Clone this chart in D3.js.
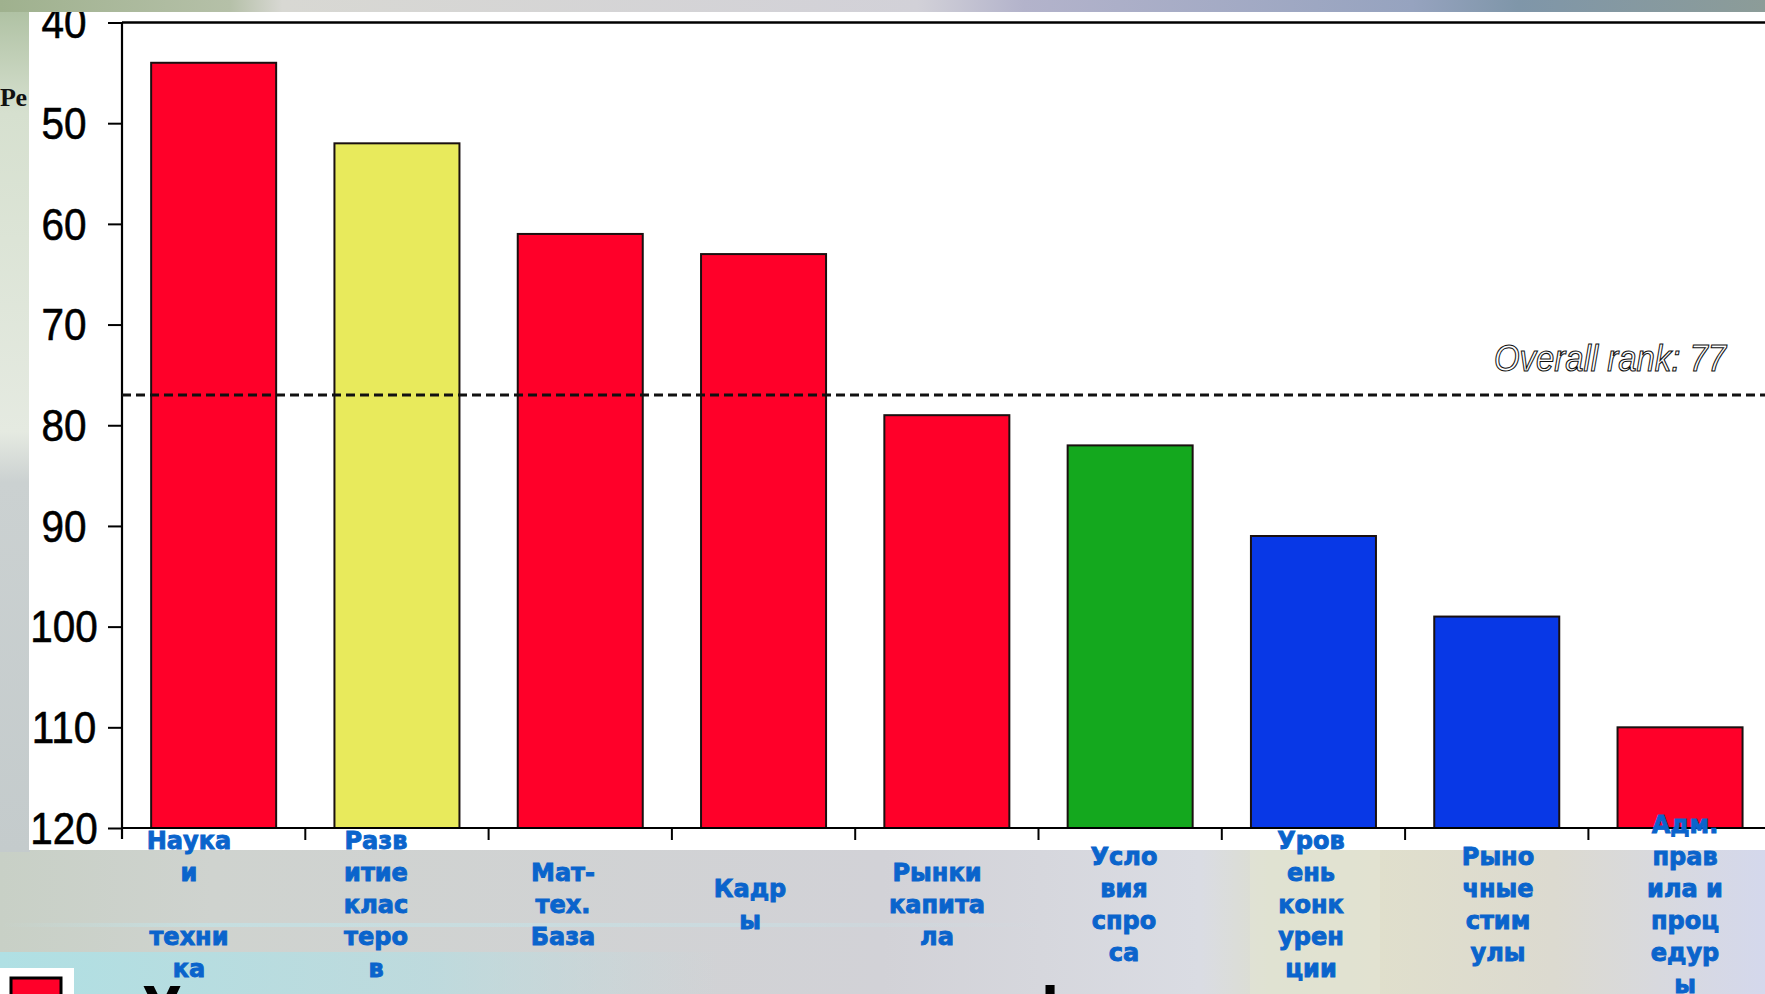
<!DOCTYPE html>
<html>
<head>
<meta charset="utf-8">
<script src="https://cdn.jsdelivr.net/npm/d3@7"></script>
<style>
  html, body { margin: 0; padding: 0; overflow: hidden; background: #d3d4d6; }
  svg { display: block; }
</style>
</head>
<body>
<svg id="chart" width="1765" height="994"></svg>
<script>
// Rank of each competitiveness factor (lower is better)
const categories = [
  "Наука и техника", "Развитие кластеров", "Мат-тех. База", "Кадры",
  "Рынки капитала", "Условия спроса", "Уровень конкуренции",
  "Рыночные стимулы", "Адм. правила и процедуры"
];
const ranks = [44, 52, 61, 63, 79, 82, 91, 99, 110];
const groups = ["red", "yellow", "red", "red", "red", "green", "blue", "blue", "red"];
const overallRank = 77;
const rankTicks = [40, 50, 60, 70, 80, 90, 100, 110, 120];
// Wrapped category captions, as they break in their narrow cells
const labelLines = [
  ["Наука", "и", "", "техни", "ка"],
  ["Разв", "итие", "клас", "теро", "в"],
  ["Мат-", "тех.", "База"],
  ["Кадр", "ы"],
  ["Рынки", "капита", "ла"],
  ["Усло", "вия", "спро", "са"],
  ["Уров", "ень", "конк", "урен", "ции"],
  ["Рыно", "чные", "стим", "улы"],
  ["Адм.", "прав", "ила и", "проц", "едур", "ы"]
];

const groupColor = d3.scaleOrdinal()
  .domain(["red", "yellow", "green", "blue"])
  .range(["#ff0029", "#e8ea5c", "#14a81e", "#0838e6"]);

const svg = d3.select("#chart");
const W = 1765, H = 994;
const defs = svg.append("defs");

function linGrad(id, stops, vertical) {
  const g = defs.append("linearGradient").attr("id", id)
    .attr("x1", 0).attr("y1", 0)
    .attr("x2", vertical ? 0 : 1).attr("y2", vertical ? 1 : 0);
  stops.forEach(s => g.append("stop").attr("offset", s[0])
    .attr("stop-color", s[1]).attr("stop-opacity", s[2] === undefined ? 1 : s[2]));
}

linGrad("bgBase", [[0, "#c8d0c6"], [0.12, "#cfd3cf"], [0.5, "#d2d2d7"], [0.68, "#dadce3"],
  [0.72, "#dcdecf"], [0.78, "#e0dfcc"], [0.88, "#dcdad0"], [1, "#d4d8ec"]]);
linGrad("bgTop", [[0, "#9fb18e"], [0.13, "#b5c0a8"], [0.16, "#d8d8d3"], [0.52, "#d2d1d8"],
  [0.58, "#b3b3cb"], [0.8, "#96a3bf"], [0.86, "#7f96a9"], [1, "#8c9c98"]]);
linGrad("bgLeft", [[0, "#b0c2a4"], [0.12, "#d6e0cf"], [0.5, "#e5eae1"], [0.56, "#cbd1d1"], [1, "#c4cbcc"]], true);
linGrad("cyanFade", [[0, "#b0e0e4", 1], [0.6, "#b6dde2", 0.7], [1, "#c0dde2", 0]]);
linGrad("streak", [[0, "#bfe6ec", 0], [0.2, "#bfe6ec", 0.6], [0.7, "#c4e4ea", 0.45], [1, "#c4e4ea", 0]]);

// Backdrop
svg.append("rect").attr("width", W).attr("height", H).attr("fill", "url(#bgBase)");
svg.append("rect").attr("width", W).attr("height", 14).attr("fill", "url(#bgTop)");
svg.append("rect").attr("y", 12).attr("width", 30).attr("height", 840).attr("fill", "url(#bgLeft)");
svg.append("rect").attr("x", 0).attr("y", 952).attr("width", 720).attr("height", 42).attr("fill", "url(#cyanFade)");
svg.append("rect").attr("x", 0).attr("y", 923).attr("width", 1050).attr("height", 4).attr("fill", "url(#streak)");
svg.append("rect").attr("x", 1250).attr("y", 850).attr("width", 130).attr("height", 144)
  .attr("fill", "#e3e4d4").attr("opacity", 0.6);

// Heading behind the chart panel, only its first letters show at the margin
defs.append("clipPath").attr("id", "marginClip").append("rect")
  .attr("x", 0).attr("y", 0).attr("width", 29).attr("height", H);
svg.append("text").attr("x", 0).attr("y", 106)
  .attr("clip-path", "url(#marginClip)")
  .attr("font-family", "Liberation Serif, serif").attr("font-weight", "bold")
  .attr("font-size", 26).attr("fill", "#111").text("Ре");

// White chart panel
const panel = { x: 29, y: 12, w: W - 29, h: 838 };
svg.append("rect").attr("x", panel.x).attr("y", panel.y)
  .attr("width", panel.w).attr("height", panel.h).attr("fill", "#ffffff");
defs.append("clipPath").attr("id", "panelClip").append("rect")
  .attr("x", panel.x).attr("y", panel.y).attr("width", panel.w).attr("height", panel.h);

const plot = svg.append("g").attr("clip-path", "url(#panelClip)");

const x0 = 122, step = 183.3;
const x = d3.scaleBand().domain(categories)
  .range([x0, x0 + step * categories.length])
  .paddingInner(0.318).paddingOuter(0.159);
const y = d3.scaleLinear().domain([40, 120]).range([22.5, 828]);

// Bars grow down from the top of the rank scale toward 120
plot.selectAll("rect.bar").data(categories).join("rect")
  .attr("class", "bar")
  .attr("x", d => x(d))
  .attr("y", (d, i) => y(ranks[i]))
  .attr("width", x.bandwidth())
  .attr("height", (d, i) => y(120) - y(ranks[i]))
  .attr("fill", (d, i) => groupColor(groups[i]))
  .attr("stroke", "#1a1010").attr("stroke-width", 2);

// Y axis: ticks from the axis generator, labels centred in the left margin
const yAxis = plot.append("g").attr("transform", `translate(${x0},0)`)
  .call(d3.axisLeft(y).tickValues(rankTicks).tickSize(14).tickSizeOuter(0).tickFormat(""));
yAxis.select(".domain").remove();
yAxis.selectAll(".tick line").attr("stroke", "#000").attr("stroke-width", 2);

plot.append("line").attr("x1", x0).attr("x2", x0)
  .attr("y1", y(40)).attr("y2", y(120) + 11)
  .attr("stroke", "#000").attr("stroke-width", 2.2);

plot.selectAll("text.rank").data(rankTicks).join("text")
  .attr("class", "rank")
  .attr("transform", d => `translate(64,${y(d)}) scale(0.92,1)`)
  .attr("dy", "0.36em")
  .attr("text-anchor", "middle")
  .attr("font-family", "Liberation Sans, Arial, sans-serif")
  .attr("font-size", 44).attr("fill", "#000")
  .attr("stroke", "#000").attr("stroke-width", 0.6)
  .text(d => d);

// Frame top and category axis
plot.append("line").attr("x1", x0).attr("x2", W)
  .attr("y1", y(40)).attr("y2", y(40))
  .attr("stroke", "#000").attr("stroke-width", 2.6);
plot.append("line").attr("x1", x0).attr("x2", W)
  .attr("y1", y(120)).attr("y2", y(120))
  .attr("stroke", "#000").attr("stroke-width", 2.2);

const boundaries = d3.range(1, categories.length + 1).map(i => x(categories[i - 1]) - x.step() * x.paddingInner() / 2 + x.step());
plot.selectAll("line.xtick").data(boundaries).join("line")
  .attr("class", "xtick")
  .attr("x1", d => d).attr("x2", d => d)
  .attr("y1", y(120)).attr("y2", y(120) + 12)
  .attr("stroke", "#000").attr("stroke-width", 2);

// Overall rank reference line
plot.append("line").attr("x1", x0).attr("x2", W)
  .attr("y1", y(overallRank)).attr("y2", y(overallRank))
  .attr("stroke", "#111").attr("stroke-width", 3)
  .attr("stroke-dasharray", "9,5");

plot.append("text")
  .attr("x", 1494).attr("y", y(overallRank) - 24)
  .attr("font-family", "Liberation Sans, Arial, sans-serif")
  .attr("font-style", "italic").attr("font-size", 36)
  .attr("textLength", 232).attr("lengthAdjust", "spacingAndGlyphs")
  .attr("fill", "#ffffff").attr("stroke", "#111").attr("stroke-width", 1.1)
  .text(`Overall rank: ${overallRank}`);

// Category captions
const labelX = d3.scalePoint().domain(categories).range([189, 1685]);
const lineH = 32, labelMid = 904.5;
const labels = svg.append("g")
  .attr("font-family", "DejaVu Sans, Verdana, sans-serif")
  .attr("font-weight", "bold").attr("font-size", 24)
  .attr("fill", "#0a64cc").attr("stroke", "#0a64cc").attr("stroke-width", 0.9)
  .attr("text-anchor", "middle");
categories.forEach((c, i) => {
  const lines = labelLines[i];
  const t = labels.append("text").attr("x", labelX(c));
  lines.forEach((ln, j) => {
    t.append("tspan").attr("x", labelX(c))
      .attr("y", labelMid + (j - (lines.length - 1) / 2) * lineH)
      .attr("dy", "0.36em").text(ln);
  });
});

// Legend swatch and caption along the lower edge
svg.append("rect").attr("x", 0).attr("y", 968).attr("width", 74).attr("height", 30).attr("fill", "#fff");
svg.append("rect").attr("x", 11).attr("y", 978).attr("width", 50).attr("height", 24)
  .attr("fill", groupColor("red")).attr("stroke", "#000").attr("stroke-width", 3);
const legendText = svg.append("g").attr("font-family", "DejaVu Sans, Verdana, sans-serif")
  .attr("font-weight", "bold").attr("font-size", 52).attr("fill", "#000");
legendText.append("text").attr("x", 142).attr("y", 1024).text("У");
legendText.append("text").attr("x", 1050).attr("y", 1024).attr("text-anchor", "middle").text("ф");
</script>
</body>
</html>
